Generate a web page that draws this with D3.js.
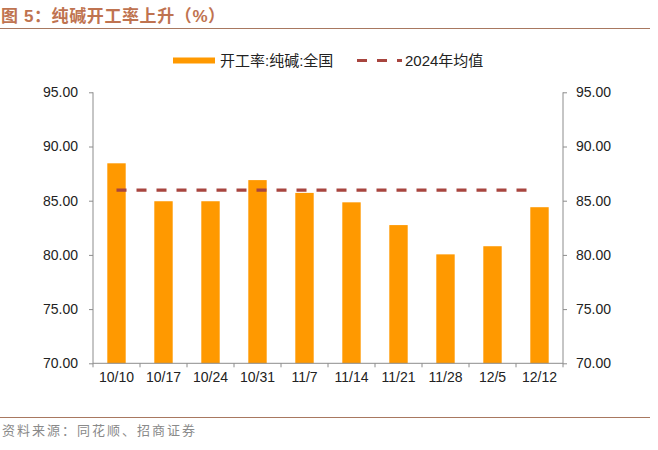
<!DOCTYPE html>
<html>
<head>
<meta charset="utf-8">
<script src="https://cdn.jsdelivr.net/npm/d3@7"></script>
<style>
html,body{margin:0;padding:0;background:#fff;}
svg{display:block;}
</style>
</head>
<body>
<svg id="chart" width="658" height="450"></svg>
<script>
const categories = ["10/10","10/17","10/24","10/31","11/7","11/14","11/21","11/28","12/5","12/12"];
const rateValues = [88.45, 84.95, 84.95, 86.9, 85.72, 84.85, 82.75, 80.05, 80.8, 84.4];
const avg2024 = [85.97, 85.97, 85.97, 85.97, 85.97, 85.97, 85.97, 85.97, 85.97, 85.97];
const yTicks = [70, 75, 80, 85, 90, 95];
const seriesNames = ["开工率:纯碱:全国", "2024年均值"];
const titleText = "图 5：纯碱开工率上升（%）";
const sourceText = "资料来源：同花顺、招商证券";

(function () {
const svg = d3.select("#chart");
const mLeft = 93, mRight = 563, mTop = 92.3, mBottom = 363.3;
const font = "'Liberation Sans', Arial, sans-serif";
const cjk = "'Liberation Sans', 'Noto Sans CJK SC', sans-serif";

const xb = d3.scaleBand().domain(categories).range([mLeft, mRight]);
const y = d3.scaleLinear().domain([70, 95]).range([mBottom, mTop]);

// title
svg.append("text").attr("x", 1).attr("y", 22).text(titleText)
  .attr("font-family", cjk).attr("font-weight", "bold").attr("font-size", 17)
  .attr("letter-spacing", 0.6)
  .attr("fill", "#BF7350");
svg.append("line").attr("x1", 0).attr("x2", 650).attr("y1", 28.5).attr("y2", 28.5)
  .attr("stroke", "#A87860").attr("stroke-width", 1);

// bars
svg.append("g").selectAll("rect").data(categories).join("rect")
  .attr("x", (d) => xb(d) + xb.bandwidth()/2 - 9.2)
  .attr("width", 18.4)
  .attr("y", (d, i) => y(rateValues[i]))
  .attr("height", (d, i) => y(70) - y(rateValues[i]))
  .attr("fill", "#FF9900");

// average dashed line
const line = d3.line().x((d, i) => xb(categories[i]) + xb.bandwidth()/2 + (i === avg2024.length - 1 ? -3 : 0)).y(d => y(d));
svg.append("path").datum(avg2024).attr("d", line)
  .attr("fill", "none").attr("stroke", "#A8453F").attr("stroke-width", 3.2)
  .attr("stroke-dasharray", "10,10");

// axes
const axisColor = "#8c8c8c";
const gl = svg.append("g").attr("transform", `translate(${mLeft},0)`)
  .call(d3.axisLeft(y).tickValues(yTicks).tickFormat(d3.format(".2f")).tickSize(4).tickPadding(11));
const gr = svg.append("g").attr("transform", `translate(${mRight},0)`)
  .call(d3.axisRight(y).tickValues(yTicks).tickFormat(d3.format(".2f")).tickSize(4).tickPadding(9));
const gb = svg.append("g").attr("transform", `translate(0,${mBottom})`)
  .call(d3.axisBottom(xb).tickSize(0).tickPadding(9));
// category boundary ticks
svg.append("g").selectAll("line").data(d3.range(categories.length + 1)).join("line")
  .attr("x1", i => mLeft + i * xb.step()).attr("x2", i => mLeft + i * xb.step())
  .attr("y1", mBottom).attr("y2", mBottom + 4)
  .attr("stroke", axisColor);

[gl, gr, gb].forEach(g => {
  g.selectAll(".domain").attr("stroke", axisColor);
  g.selectAll(".tick line").attr("stroke", axisColor);
  g.selectAll("text").attr("font-family", font).attr("font-size", 14).attr("fill", "#222");
});
gl.select(".domain").attr("d", `M0,${mTop}V${mBottom}`);
gr.select(".domain").attr("d", `M0,${mTop}V${mBottom}`);
gb.select(".domain").attr("d", `M${mLeft},0H${mRight}`);

// legend
const lg = svg.append("g");
lg.append("line").attr("x1", 173).attr("x2", 215).attr("y1", 60.5).attr("y2", 60.5)
  .attr("stroke", "#FF9900").attr("stroke-width", 6);
lg.append("text").attr("x", 220).attr("y", 66).text(seriesNames[0])
  .attr("font-family", cjk).attr("font-size", 15).attr("fill", "#222");
lg.append("line").attr("x1", 357).attr("x2", 402).attr("y1", 60.5).attr("y2", 60.5)
  .attr("stroke", "#A8453F").attr("stroke-width", 3.2).attr("stroke-dasharray", "10,10");
lg.append("text").attr("x", 405).attr("y", 66).text(seriesNames[1])
  .attr("font-family", cjk).attr("font-size", 15).attr("fill", "#222");

// footer
svg.append("line").attr("x1", 0).attr("x2", 650).attr("y1", 417.5).attr("y2", 417.5)
  .attr("stroke", "#A87860").attr("stroke-width", 1);
svg.append("text").attr("x", 2).attr("y", 435).text(sourceText)
  .attr("font-family", cjk).attr("font-size", 13).attr("letter-spacing", 2).attr("fill", "#8a8a8a");
})();
</script>
</body>
</html>
